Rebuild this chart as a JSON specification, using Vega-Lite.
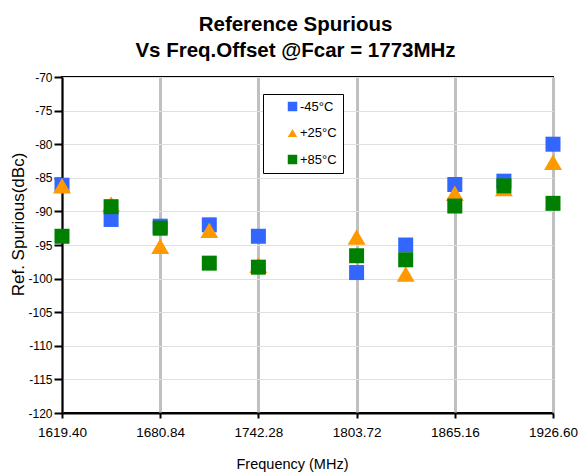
{
  "$schema": "https://vega.github.io/schema/vega-lite/v6.json",
  "width": 491,
  "height": 336,
  "autosize": {"type": "none"},
  "padding": {"left": 62, "top": 77, "right": 29, "bottom": 59},
  "background": "white",
  "title": {
    "text": ["Reference Spurious", "Vs Freq.Offset  @Fcar = 1773MHz"],
    "font": "Liberation Sans",
    "fontSize": 20.5,
    "fontWeight": "bold",
    "color": "black",
    "lineHeight": 26,
    "anchor": "middle",
    "dx": -12,
    "offset": 10
  },
  "config": {
    "view": {"stroke": "black", "strokeWidth": 2},
    "font": "Liberation Sans"
  },
  "data": {
    "values": [
      {"freq": 1619.4, "series": "-45°C", "value": -86.1},
      {"freq": 1650.12, "series": "-45°C", "value": -91.2},
      {"freq": 1680.84, "series": "-45°C", "value": -92.2},
      {"freq": 1711.56, "series": "-45°C", "value": -92.0},
      {"freq": 1742.28, "series": "-45°C", "value": -93.7},
      {"freq": 1803.72, "series": "-45°C", "value": -99.1},
      {"freq": 1834.44, "series": "-45°C", "value": -95.0},
      {"freq": 1865.16, "series": "-45°C", "value": -86.0},
      {"freq": 1895.88, "series": "-45°C", "value": -85.5},
      {"freq": 1926.6, "series": "-45°C", "value": -80.0},
      {"freq": 1619.4, "series": "+25°C", "value": -86.2},
      {"freq": 1650.12, "series": "+25°C", "value": -88.9},
      {"freq": 1680.84, "series": "+25°C", "value": -95.2},
      {"freq": 1711.56, "series": "+25°C", "value": -92.8},
      {"freq": 1742.28, "series": "+25°C", "value": -98.0},
      {"freq": 1803.72, "series": "+25°C", "value": -93.8},
      {"freq": 1834.44, "series": "+25°C", "value": -99.3},
      {"freq": 1865.16, "series": "+25°C", "value": -87.3},
      {"freq": 1895.88, "series": "+25°C", "value": -86.6},
      {"freq": 1926.6, "series": "+25°C", "value": -82.7},
      {"freq": 1619.4, "series": "+85°C", "value": -93.7},
      {"freq": 1650.12, "series": "+85°C", "value": -89.3},
      {"freq": 1680.84, "series": "+85°C", "value": -92.5},
      {"freq": 1711.56, "series": "+85°C", "value": -97.7},
      {"freq": 1742.28, "series": "+85°C", "value": -98.3},
      {"freq": 1803.72, "series": "+85°C", "value": -96.6},
      {"freq": 1834.44, "series": "+85°C", "value": -97.2},
      {"freq": 1865.16, "series": "+85°C", "value": -89.2},
      {"freq": 1895.88, "series": "+85°C", "value": -86.2},
      {"freq": 1926.6, "series": "+85°C", "value": -88.8}
    ]
  },
  "mark": {"type": "point", "filled": true, "opacity": 1, "clip": false},
  "encoding": {
    "x": {
      "field": "freq",
      "type": "quantitative",
      "scale": {"domain": [1619.4, 1926.6], "nice": false, "zero": false},
      "axis": {
        "title": "Frequency (MHz)",
        "titleFont": "Liberation Sans",
        "titleFontSize": 14.5,
        "titleFontWeight": "normal",
        "titleColor": "black",
        "titlePadding": 19,
        "titleX": 230,
        "values": [1619.4, 1680.84, 1742.28, 1803.72, 1865.16, 1926.6],
        "format": ".2f",
        "labelFont": "Liberation Sans",
        "labelFontSize": 13.5,
        "labelColor": "black",
        "labelPadding": 7,
        "labelFlush": false,
        "labelOverlap": false,
        "domainColor": "black",
        "domainWidth": 2,
        "tickColor": "black",
        "tickWidth": 2,
        "tickSize": 5,
        "grid": true,
        "gridColor": "#c0c0c0",
        "gridWidth": 3
      }
    },
    "y": {
      "field": "value",
      "type": "quantitative",
      "scale": {"domain": [-120, -70], "nice": false, "zero": false},
      "axis": {
        "title": "Ref. Spurious(dBc)",
        "titleFont": "Liberation Sans",
        "titleFontSize": 17,
        "titleFontWeight": "normal",
        "titleColor": "black",
        "titleX": -35,
        "titleY": 147,
        "values": [-120, -115, -110, -105, -100, -95, -90, -85, -80, -75, -70],
        "labelExpr": "'' + datum.value",
        "labelFont": "Liberation Sans",
        "labelFontSize": 12,
        "labelColor": "black",
        "labelPadding": 2,
        "labelFlush": false,
        "labelOverlap": false,
        "domainColor": "black",
        "domainWidth": 2,
        "tickColor": "black",
        "tickWidth": 2,
        "tickSize": 8,
        "grid": true,
        "gridColor": "#e0e0e0",
        "gridWidth": 1
      }
    },
    "color": {
      "field": "series",
      "type": "nominal",
      "scale": {"domain": ["-45°C", "+25°C", "+85°C"], "range": ["#3366ff", "#ff9900", "#008000"]},
      "legend": {
        "title": null,
        "orient": "none",
        "legendX": 201,
        "legendY": 17,
        "strokeColor": "black",
        "fillColor": "white",
        "padding": 6,
        "rowPadding": 12.5,
        "symbolSize": 90,
        "symbolOffset": 17,
        "labelOffset": 1,
        "labelFont": "Liberation Sans",
        "labelFontSize": 13,
        "labelColor": "black",
        "labelLimit": 200
      }
    },
    "shape": {
      "field": "series",
      "type": "nominal",
      "scale": {"domain": ["-45°C", "+25°C", "+85°C"], "range": ["square", "triangle-up", "square"]},
      "legend": null
    },
    "size": {
      "condition": {"test": "datum.series === '+25°C'", "value": 320},
      "value": 225
    }
  }
}
